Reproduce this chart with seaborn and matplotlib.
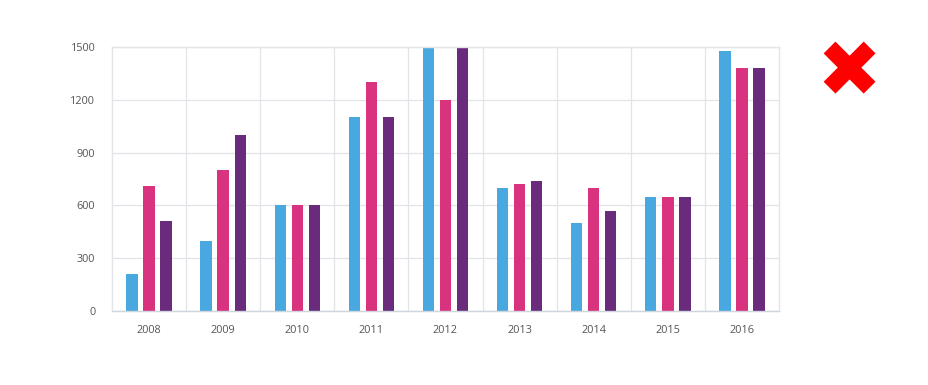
import matplotlib
matplotlib.use("Agg")
import matplotlib.pyplot as plt
import seaborn as sns
import pandas as pd

years = ["2008", "2009", "2010", "2011", "2012", "2013", "2014", "2015", "2016"]
series_a = [210, 400, 600, 1100, 1500, 700, 500, 650, 1480]
series_b = [710, 800, 600, 1300, 1200, 720, 700, 650, 1380]
series_c = [510, 1000, 600, 1100, 1500, 740, 570, 650, 1380]
series_names = ["A", "B", "C"]
colors = ["#4aa8e0", "#d9327f", "#6a2b7c"]
y_ticks = [0, 300, 600, 900, 1200, 1500]

rows = []
for name, vals in zip(series_names, [series_a, series_b, series_c]):
    for y, v in zip(years, vals):
        rows.append({"year": y, "series": name, "value": v})
df = pd.DataFrame(rows)

sns.set_theme(style="white")
plt.rcParams['font.family'] = ['Open Sans', 'DejaVu Sans']

fig = plt.figure(figsize=(9.29, 3.85), dpi=100)
ax = fig.add_axes([112/929, 1 - 311/385, (779-112)/929, (311-47)/385])

sns.barplot(data=df, x="year", y="value", hue="series", palette=colors,
            order=years, hue_order=series_names, width=0.69, gap=0.33,
            saturation=1, legend=False, linewidth=0, ax=ax)

ax.set_ylim(0, 1500)
ax.set_xlim(-0.5, len(years) - 0.5)
ax.set_yticks(y_ticks)
ax.set_yticklabels([str(t) for t in y_ticks])
ax.set_xticks(range(len(years)))
ax.set_xticklabels(years)
ax.set_xticks([i + 0.5 for i in range(len(years) - 1)], minor=True)
ax.set_xlabel("")
ax.set_ylabel("")

gc = "#e1e5ea"
ax.grid(False)
ax.yaxis.grid(True, color=gc, linewidth=0.9)
ax.xaxis.grid(True, which="minor", color=gc, linewidth=0.9)
ax.set_axisbelow(True)
for s in ax.spines.values():
    s.set_visible(True)
    s.set_color(gc)
    s.set_linewidth(1.0)
ax.spines["bottom"].set_color("#cfd5dc")
ax.tick_params(axis="both", which="both", length=0, labelsize=7.8, colors="#555555")
ax.tick_params(axis="x", pad=10)
ax.tick_params(axis="y", pad=12)

fig.text(849/929, 1 - 74/385, "\u2716", color="#ff0000", fontsize=56,
         ha="center", va="center", family="DejaVu Sans")

fig.savefig("out.png", dpi=100)
